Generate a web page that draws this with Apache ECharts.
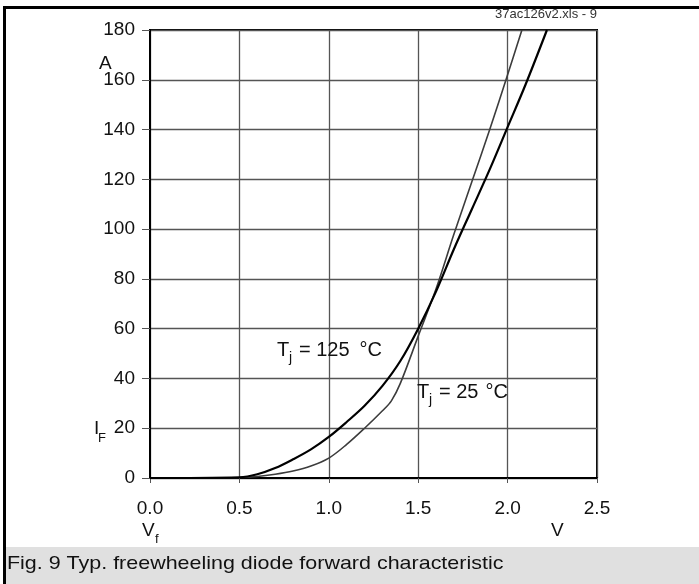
<!DOCTYPE html>
<html>
<head>
<meta charset="utf-8">
<script src="https://cdn.jsdelivr.net/npm/echarts@6/dist/echarts.min.js"></script>
<style>
html,body{margin:0;padding:0;background:#fff;}
#c{width:699px;height:584px;}
</style>
</head>
<body>
<div id="c"></div>
<script>
// Data
const vf125 = [0, 0.5, 0.6, 0.7, 0.8, 0.9, 1.0, 1.1, 1.2, 1.3, 1.4, 1.5, 1.6, 1.7, 1.8, 1.9, 2.0, 2.1, 2.22];
const if125 = [0, 0.3, 1.5, 4, 7.5, 11.5, 16.5, 22.5, 29, 37, 47, 60, 75, 92, 108, 124, 141, 158, 180];
const vf25 = [0, 0.5, 0.6, 0.7, 0.8, 0.9, 1.0, 1.1, 1.2, 1.3, 1.35, 1.4, 1.5, 1.6, 1.7, 1.8, 1.9, 2.0, 2.08];
const if25 = [0, 0.2, 0.6, 1.5, 2.8, 4.8, 8, 13.5, 20, 27, 31, 38, 57, 76, 98, 119, 140, 162, 180];
const xTicks = ['0.0', '0.5', '1.0', '1.5', '2.0', '2.5'];
const yTicks = [0, 20, 40, 60, 80, 100, 120, 140, 160, 180];

const FONT = "'Liberation Sans', Arial, Helvetica, sans-serif";
const NARROW = "'Liberation Sans Narrow', 'Liberation Sans', Arial, sans-serif";

const chart = echarts.init(document.getElementById('c'), null, {renderer: 'canvas'});

function pairs(xs, ys) { return xs.map((x, i) => [x, ys[i]]); }

function txt(x, y, text, size, align, extra) {
  return Object.assign({
    type: 'text', x: x, y: y, z: 10,
    style: {text: text, font: size + 'px ' + FONT, fill: '#111', align: align || 'left', verticalAlign: 'middle'}
  }, extra || {});
}

const option = {
  animation: false,
  backgroundColor: '#fff',
  grid: {left: 150, top: 30, width: 447, height: 448, show: true, borderColor: '#000', borderWidth: 2, backgroundColor: 'transparent'},
  xAxis: {
    type: 'value', min: 0, max: 2.5, interval: 0.5,
    axisLine: {show: true, onZero: false, lineStyle: {color: '#000', width: 2}},
    axisTick: {show: true, inside: false, length: 5, lineStyle: {color: '#555', width: 1}},
    axisLabel: {margin: 21, fontSize: 19, fontFamily: FONT, color: '#111',
      formatter: v => xTicks[Math.round(v / 0.5)] || v.toFixed(1)},
    splitLine: {show: true, lineStyle: {color: '#555', width: 1.3}}
  },
  yAxis: {
    type: 'value', min: 0, max: 180, interval: 20,
    axisLine: {show: true, lineStyle: {color: '#000', width: 2}},
    axisTick: {show: true, inside: false, length: 8, lineStyle: {color: '#555', width: 1}},
    axisLabel: {margin: 15, fontSize: 19, fontFamily: FONT, color: '#111',
      formatter: v => yTicks.indexOf(v) >= 0 ? String(v) : ''},
    splitLine: {show: true, lineStyle: {color: '#555', width: 1.3}}
  },
  series: [
    {
      name: 'Tj = 25 °C', type: 'line', data: pairs(vf25, if25),
      showSymbol: false, smooth: 0.35,
      lineStyle: {color: '#3c3c3c', width: 1.6}, z: 3
    },
    {
      name: 'Tj = 125 °C', type: 'line', data: pairs(vf125, if125),
      showSymbol: false, smooth: 0.35,
      lineStyle: {color: '#000', width: 2.2}, z: 4
    }
  ],
  graphic: [
    // caption box
    {type: 'rect', shape: {x: 5, y: 547, width: 694, height: 37}, style: {fill: '#e0e0e0'}, z: 1},
    // outer frame lines (top and left)
    {type: 'rect', shape: {x: 3, y: 6, width: 696, height: 3}, style: {fill: '#000'}, z: 2},
    {type: 'rect', shape: {x: 3, y: 6, width: 3, height: 578}, style: {fill: '#000'}, z: 2},
    // file id
    {type: 'text', x: 597, y: 14, z: 10, style: {text: '37ac126v2.xls - 9', font: '13px ' + NARROW, fill: '#333', align: 'right', verticalAlign: 'middle'}},
    // axis unit labels
    txt(99, 64, 'A', 19),
    txt(94, 429, 'I', 19),
    txt(98, 438, 'F', 13),
    txt(142, 531, 'V', 19),
    txt(155, 539, 'f', 13),
    txt(551, 531, 'V', 19),
    // curve labels
    txt(277, 350, 'T', 20),
    txt(289, 358, 'j', 14),
    txt(299, 350, '= 125', 20),
    txt(382, 350, '°C', 20, 'right'),
    txt(417, 392, 'T', 20),
    txt(429, 400, 'j', 14),
    txt(439, 392, '= 25', 20),
    txt(508, 392, '°C', 20, 'right'),
    // caption
    txt(8, 564, 'Fig. 9 Typ. freewheeling diode forward characteristic', 19, 'left', {scaleX: 1.13, originX: 8, originY: 564})
  ]
};
chart.setOption(option);
</script>
</body>
</html>
